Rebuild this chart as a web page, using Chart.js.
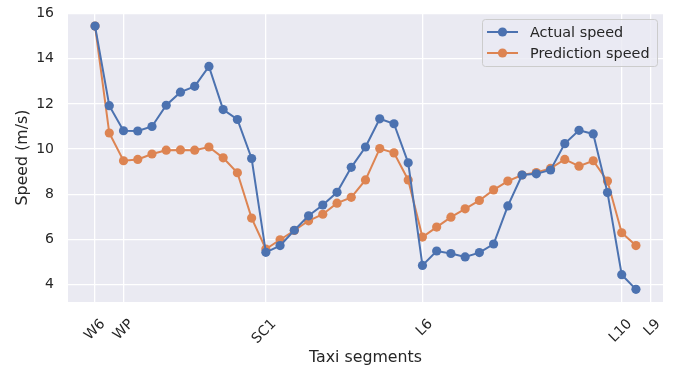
<!DOCTYPE html>
<html>
<head>
<meta charset="utf-8">
<script src="https://cdn.jsdelivr.net/npm/chart.js@4"></script>
<style>
  html, body { margin: 0; padding: 0; background: #ffffff; }
  #wrap { width: 678px; height: 368px; }
</style>
</head>
<body>
<div id="wrap"><canvas id="speedChart"></canvas></div>
<script>
// segment index of each labelled taxi segment
const segmentTicks = [0, 2, 12, 23, 37, 39];
const segmentLabels = ["W6", "WP", "SC1", "L6", "L10", "L9"];
const speedTicks = [4, 6, 8, 10, 12, 14, 16];

const actualSpeed = [
  15.45, 11.92, 10.81, 10.8, 11.0, 11.94, 12.52, 12.78, 13.66, 11.75,
  11.31, 9.58, 5.42, 5.72, 6.4, 7.04, 7.52, 8.08, 9.19, 10.09,
  11.34, 11.12, 9.39, 4.84, 5.48, 5.37, 5.22, 5.41, 5.79, 7.48,
  8.85, 8.9, 9.07, 10.24, 10.83, 10.67, 8.07, 4.43, 3.78
];
const predictionSpeed = [
  15.45, 10.71, 9.48, 9.54, 9.78, 9.95, 9.96, 9.95, 10.09, 9.61,
  8.95, 6.94, 5.57, 5.98, 6.39, 6.82, 7.11, 7.6, 7.86, 8.63,
  10.02, 9.83, 8.63, 6.1, 6.54, 6.98, 7.35, 7.72, 8.19, 8.58,
  8.85, 8.96, 9.14, 9.54, 9.24, 9.48, 8.58, 6.29, 5.72
];

const toPoints = (values) => values.map((v, i) => ({ x: i, y: v }));

const FONT = "'DejaVu Sans', sans-serif";
const BLUE = "#4c72b0";
const ORANGE = "#dd8452";

// no extra room for overflowing tick labels, the layout padding handles it
const noLabelPadding = (axis) => {
  axis.paddingTop = 0;
  axis.paddingBottom = 0;
  axis.paddingLeft = 0;
  axis.paddingRight = 0;
};

// grey plot background like seaborn darkgrid
const plotBackground = {
  id: "plotBackground",
  beforeDraw(chart) {
    const { ctx, chartArea } = chart;
    ctx.save();
    ctx.fillStyle = "#eaeaf2";
    ctx.fillRect(chartArea.left, chartArea.top, chartArea.width, chartArea.height);
    ctx.restore();
  },
};

// legend inside the plot, top right, line + marker
const insideLegend = {
  id: "insideLegend",
  afterDraw(chart) {
    const { ctx } = chart;
    const x = 482, y = 19, w = 175, h = 47;
    ctx.save();
    ctx.fillStyle = "rgba(234,234,242,0.8)";
    ctx.strokeStyle = "#cccccc";
    ctx.lineWidth = 1;
    ctx.beginPath();
    ctx.roundRect(x + 0.5, y + 0.5, w, h, 3);
    ctx.fill();
    ctx.stroke();
    ctx.font = "14.4px " + FONT;
    ctx.textBaseline = "middle";
    chart.data.datasets.forEach((ds, i) => {
      const cy = 32 + i * 21;
      ctx.strokeStyle = ds.borderColor;
      ctx.lineWidth = 2;
      ctx.beginPath();
      ctx.moveTo(487, cy);
      ctx.lineTo(518, cy);
      ctx.stroke();
      ctx.fillStyle = ds.backgroundColor;
      ctx.beginPath();
      ctx.arc(502.5, cy, 4.6, 0, Math.PI * 2);
      ctx.fill();
      ctx.fillStyle = "#262626";
      ctx.fillText(ds.label, 530, cy + 1);
    });
    ctx.restore();
  },
};

new Chart(document.getElementById("speedChart"), {
  type: "line",
  data: {
    datasets: [
      {
        label: "Actual speed",
        data: toPoints(actualSpeed),
        borderColor: BLUE,
        backgroundColor: BLUE,
        borderWidth: 2,
        pointRadius: 4.6,
        pointBorderWidth: 0,
      },
      {
        label: "Prediction speed",
        data: toPoints(predictionSpeed),
        borderColor: ORANGE,
        backgroundColor: ORANGE,
        borderWidth: 2,
        pointRadius: 4.6,
        pointBorderWidth: 0,
      },
    ],
  },
  options: {
    responsive: true,
    maintainAspectRatio: false,
    animation: false,
    layout: { padding: { top: 13, right: 15, left: 13, bottom: 0 } },
    plugins: { legend: { display: false }, tooltip: { enabled: false } },
    scales: {
      x: {
        type: "linear",
        min: -1.9,
        max: 39.9,
        afterBuildTicks: (axis) => {
          axis.ticks = segmentTicks.map((v) => ({ value: v }));
        },
        afterFit: (axis) => {
          axis.height = 66;
          noLabelPadding(axis);
        },
        grid: { color: "#ffffff", lineWidth: 1.3, drawTicks: false },
        border: { display: false },
        ticks: {
          callback: (value) => segmentLabels[segmentTicks.indexOf(value)],
          minRotation: 45,
          maxRotation: 45,
          autoSkip: false,
          padding: 14,
          labelOffset: 8,
          color: "#262626",
          font: { family: FONT, size: 14 },
        },
        title: {
          display: true,
          text: "Taxi segments",
          color: "#262626",
          font: { family: FONT, size: 15.8 },
          padding: { top: 2, bottom: 1 },
        },
      },
      y: {
        min: 3.22,
        max: 16.03,
        afterBuildTicks: (axis) => {
          axis.ticks = speedTicks.map((v) => ({ value: v }));
        },
        afterFit: (axis) => {
          axis.width = 55;
          noLabelPadding(axis);
        },
        grid: { color: "#ffffff", lineWidth: 1.3, drawTicks: false },
        border: { display: false },
        ticks: {
          padding: 14,
          color: "#262626",
          font: { family: FONT, size: 14 },
        },
        title: {
          display: true,
          text: "Speed (m/s)",
          color: "#262626",
          font: { family: FONT, size: 15.8 },
          padding: { top: 0, bottom: 0 },
        },
      },
    },
  },
  plugins: [plotBackground, insideLegend],
});
</script>
</body>
</html>
